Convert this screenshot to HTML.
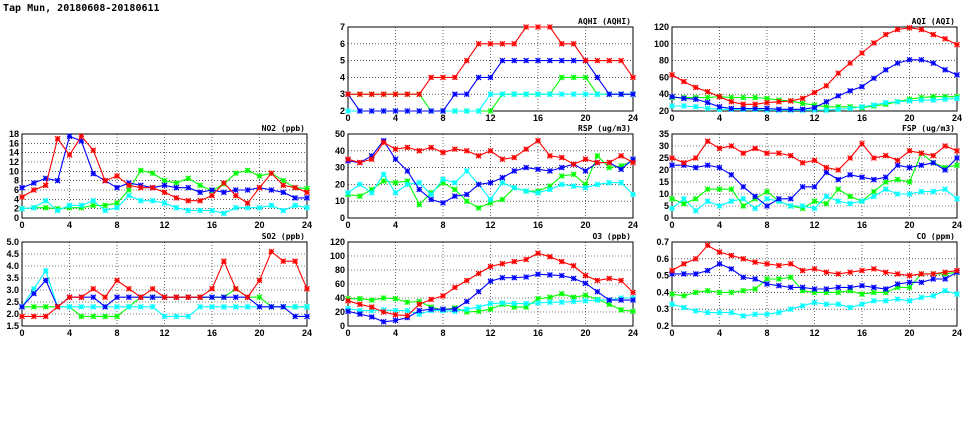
<!DOCTYPE html>
<html><head><meta charset="utf-8"><style>
html,body{margin:0;padding:0;background:#fff;width:975px;height:447px;overflow:hidden}
text{font-family:"DejaVu Sans Mono","Liberation Mono",monospace;}
text.tick{font-family:"Liberation Sans",sans-serif;font-weight:600}
</style></head><body>
<svg id="chart" width="975" height="447" xmlns="http://www.w3.org/2000/svg">
<text x="3" y="11" font-size="10" font-weight="bold">Tap Mun, 20180608-20180611</text>
</svg>
<script>
const hours = [0,1,2,3,4,5,6,7,8,9,10,11,12,13,14,15,16,17,18,19,20,21,22,23,24];
const xTicks = [0,4,8,12,16,20,24];
const colors = ['#00ff00','#00ffff','#0000ff','#ff0000'];
const seriesNames = ['green','cyan','blue','red'];

const no2Red=[4.5,6,7,17,13.5,17.5,14.5,8,9,7,6.5,6.5,5.5,4.3,3.7,3.7,4.8,7.5,4.8,3.2,6.5,9.6,7,6.5,5.5];
const no2Blue=[6.5,7.5,8.5,8,17.5,16.5,9.5,8,6.5,7.5,7,6.5,7,6.5,6.5,5.5,6,5.5,6,6,6.5,6,5.5,4.3,4.3];
const no2Green=[2,2.2,2.2,2,2.2,2.2,2.7,2.7,3.2,6,10.2,9.6,8,7.5,8.5,7,5.8,7.3,9.6,10.2,9,9.6,8,6.5,6.3];
const no2Cyan=[2,2.2,3.7,1.6,2.7,2.7,3.7,1.6,2.2,4.8,3.7,3.7,3.2,2.2,1.6,1.6,1.6,1,2.2,2.2,2.2,2.7,1.6,2.7,2.2];
const no2Ticks=[0,2,4,6,8,10,12,14,16,18];

const so2Red=[1.9,1.9,1.9,2.3,2.7,2.7,3.05,2.7,3.4,3.05,2.7,3.05,2.7,2.7,2.7,2.7,3.05,4.2,3.05,2.7,3.4,4.6,4.2,4.2,3.05];
const so2Blue=[2.3,2.85,3.4,2.3,2.7,2.7,2.7,2.3,2.7,2.7,2.7,2.7,2.7,2.7,2.7,2.7,2.7,2.7,2.7,2.7,2.3,2.3,2.3,1.9,1.9];
const so2Green=[2.3,2.3,2.3,2.3,2.3,1.9,1.9,1.9,1.9,2.3,2.7,2.7,2.7,2.7,2.7,2.7,2.7,2.7,3.05,2.7,2.7,2.3,2.3,2.3,2.3];
const so2Cyan=[2.3,3.05,3.8,2.3,2.3,2.3,2.3,2.3,2.3,2.3,2.3,2.3,1.9,1.9,1.9,2.3,2.3,2.3,2.3,2.3,2.3,2.3,2.3,2.3,2.3];
const so2Ticks=[1.5,2.0,2.5,3.0,3.5,4.0,4.5,5.0];

const aqhiRed=[3,3,3,3,3,3,3,4,4,4,5,6,6,6,6,7,7,7,6,6,5,5,5,5,4];
const aqhiBlue=[3,2,2,2,2,2,2,2,2,3,3,4,4,5,5,5,5,5,5,5,5,4,3,3,3];
const aqhiGreen=[3,3,3,3,3,3,3,2,2,2,2,2,2,3,3,3,3,3,4,4,4,3,3,3,3];
const aqhiCyan=[2,2,2,2,2,2,2,2,2,2,2,2,3,3,3,3,3,3,3,3,3,3,3,3,3];
const aqhiTicks=[2,3,4,5,6,7];

const rspRed=[35,33,35,45,41,42,40,42,39,41,40,37,40,35,36,41,46,37,36,32,35,33,33,37,33];
const rspBlue=[34,33,37,46,35,28,17,11,9,13,14,20,21,24,28,30,29,28,30,32,28,33,33,29,35];
const rspGreen=[14,13,17,22,21,22,8,15,21,17,10,6,9,11,18,16,16,19,25,26,20,37,30,31,34];
const rspCyan=[15,20,15,26,15,20,21,14,23,21,28,20,11,21,18,16,15,17,20,19,18,20,21,21,14];
const rspTicks=[0,10,20,30,40,50];

const aqiRed=[63,55,48,43,37,31,28,28,30,31,32,35,42,50,65,77,89,101,111,117,119,117,111,106,99];
const aqiBlue=[37,35,34,30,25,23,23,23,23,22,22,22,24,31,38,44,49,59,69,77,81,81,77,69,63];
const aqiGreen=[36,36,36,36,37,36,36,36,35,33,32,29,27,25,25,25,24,26,28,31,34,36,37,37,37];
const aqiCyan=[26,26,25,23,22,22,22,22,21,21,21,21,21,21,22,23,25,27,30,31,32,33,33,34,35];
const aqiTicks=[20,40,60,80,100,120];

const fspRed=[25,23,25,32,29,30,27,29,27,27,26,23,24,21,20,25,31,25,26,24,28,27,26,30,28];
const fspBlue=[22,22,21,22,21,18,13,9,5,8,8,13,13,19,16,18,17,16,17,22,21,22,23,20,25];
const fspGreen=[8,6,8,12,12,12,5,8,11,7,5,4,7,6,12,9,7,11,15,16,15,27,23,21,22];
const fspCyan=[4,8,3,7,5,7,8,4,8,7,5,5,4,9,7,6,7,9,12,10,10,11,11,12,8];
const fspTicks=[0,5,10,15,20,25,30,35];

const o3Red=[36,31,27,20,16,15,31,38,43,55,65,75,85,89,92,95,104,99,92,86,72,65,68,65,48];
const o3Blue=[21,17,13,6,8,12,22,24,24,24,35,49,64,69,69,70,74,73,72,68,61,49,37,37,37];
const o3Green=[39,39,37,40,39,34,35,27,23,26,20,21,24,31,27,27,39,41,46,41,44,38,31,23,21];
const o3Cyan=[25,22,22,23,22,22,17,22,22,21,24,27,32,33,32,32,33,34,34,35,36,37,37,40,40];
const o3Ticks=[0,20,40,60,80,100,120];

const coRed=[.53,.57,.60,.68,.64,.62,.60,.58,.57,.56,.57,.53,.54,.52,.51,.52,.53,.54,.52,.51,.50,.51,.51,.52,.53];
const coBlue=[.51,.51,.51,.53,.57,.54,.49,.48,.45,.44,.43,.43,.42,.42,.43,.43,.44,.43,.42,.45,.46,.46,.48,.48,.52];
const coGreen=[.39,.38,.40,.41,.40,.40,.41,.42,.48,.48,.49,.41,.40,.40,.40,.41,.39,.40,.40,.43,.43,.51,.51,.51,.52];
const coCyan=[.33,.31,.29,.28,.28,.28,.26,.27,.27,.28,.30,.32,.34,.33,.33,.31,.33,.35,.35,.36,.35,.37,.38,.41,.39];
const coTicks=[0.2,0.3,0.4,0.5,0.6,0.7];

const panels=[
 {id:'aqhi',title:'AQHI (AQHI)',x:348,y:27,ticks:aqhiTicks,dec:0,s:[aqhiGreen,aqhiCyan,aqhiBlue,aqhiRed]},
 {id:'aqi',title:'AQI (AQI)',x:672,y:27,ticks:aqiTicks,dec:0,s:[aqiGreen,aqiCyan,aqiBlue,aqiRed]},
 {id:'no2',title:'NO2 (ppb)',x:22,y:134,ticks:no2Ticks,dec:0,s:[no2Green,no2Cyan,no2Blue,no2Red]},
 {id:'rsp',title:'RSP (ug/m3)',x:348,y:134,ticks:rspTicks,dec:0,s:[rspGreen,rspCyan,rspBlue,rspRed]},
 {id:'fsp',title:'FSP (ug/m3)',x:672,y:134,ticks:fspTicks,dec:0,s:[fspGreen,fspCyan,fspBlue,fspRed]},
 {id:'so2',title:'SO2 (ppb)',x:22,y:242,ticks:so2Ticks,dec:1,s:[so2Green,so2Cyan,so2Blue,so2Red]},
 {id:'o3',title:'O3 (ppb)',x:348,y:242,ticks:o3Ticks,dec:0,s:[o3Green,o3Cyan,o3Blue,o3Red]},
 {id:'co',title:'CO (ppm)',x:672,y:242,ticks:coTicks,dec:1,s:[coGreen,coCyan,coBlue,coRed]}
];
const W=285,H=84,NS='http://www.w3.org/2000/svg';
const svg=document.getElementById('chart');
function mk(tag,attrs,parent){const e=document.createElementNS(NS,tag);for(const k in attrs)e.setAttribute(k,attrs[k]);parent.appendChild(e);return e;}
panels.forEach(p=>{
  const g=mk('g',{},svg);
  
  
  const lo=p.ticks[0],hi=p.ticks[p.ticks.length-1];
  const sx=v=>p.x+v/24*W;
  const sy=v=>p.y+H-(v-lo)/(hi-lo)*H;
  p.ticks.forEach(t=>{
    const y=sy(t);
    if(t!==lo&&t!==hi){const l=mk('line',{x1:p.x,x2:p.x+W,y1:y,y2:y,stroke:'#000','stroke-width':0.6,'stroke-dasharray':'1,2'},g);
      }
    const tx=mk('text',{x:p.x-3,y:y+3,'font-size':9,'text-anchor':'end',class:'tick'},g);
    tx.textContent=t.toFixed(p.dec);
    
    
  });
  xTicks.forEach(t=>{
    const x=sx(t);
    if(t!==0&&t!==24){const l=mk('line',{x1:x,x2:x,y1:p.y,y2:p.y+H,stroke:'#000','stroke-width':0.6,'stroke-dasharray':'1,2'},g);
      }
    const tx=mk('text',{x:x,y:p.y+H+10,'font-size':9,'text-anchor':'middle',class:'tick'},g);
    tx.textContent=t;
    
    
  });
  const fr=mk('rect',{x:p.x,y:p.y,width:W,height:H,fill:'none',stroke:'#000','stroke-width':1},g);
  
  
  const ti=mk('text',{x:p.x+W-2,y:p.y-3,'font-size':8,'font-weight':'bold','text-anchor':'end'},g);
  ti.textContent=p.title;
  
  
  p.s.forEach((vals,si)=>{
    const c=colors[si];
    const pts=hours.map((h,i)=>sx(h).toFixed(1)+','+sy(vals[i]).toFixed(1)).join(' ');
    const pl=mk('polyline',{points:pts,fill:'none',stroke:c,'stroke-width':1.1},g);
    
    
    hours.forEach((h,i)=>{
      const x=sx(h),y=sy(vals[i]);
      const m=mk('path',{d:`M${x-2.5},${y-2.5}L${x+2.5},${y+2.5}M${x-2.5},${y+2.5}L${x+2.5},${y-2.5}M${x-2.5},${y}L${x+2.5},${y}M${x},${y-2.5}L${x},${y+2.5}`,stroke:c,'stroke-width':1.2,fill:'none'},g);
      
      
    });
  });
});
</script>
</body></html>
